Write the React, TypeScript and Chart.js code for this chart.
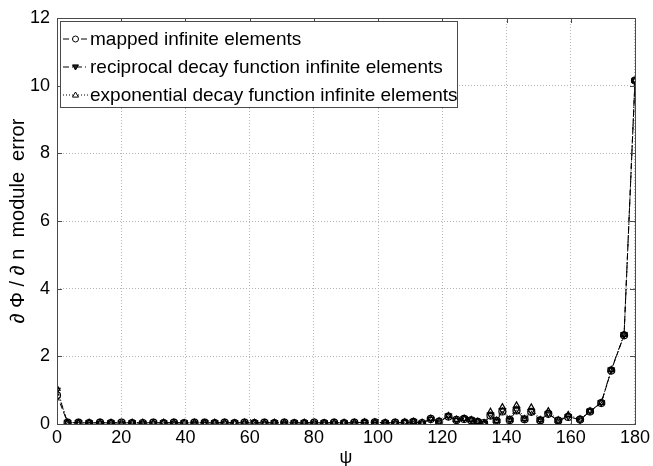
import React, { useEffect, useRef } from "react";
import { Chart, registerables } from "chart.js";

Chart.register(...registerables);

// Angular position of the sample points (degrees)
const psi: number[] = [
  0, 3.3, 6.7, 10.0, 13.4, 16.8, 20.1, 23.4, 26.7, 30.0,
  33.2, 36.4, 39.6, 42.8, 46.0, 49.1, 52.2, 55.3, 58.4, 61.5,
  64.6, 67.7, 70.8, 73.9, 77.0, 80.1, 83.2, 86.3, 89.4, 92.6,
  95.8, 99.0, 102.2, 105.3, 108.3, 111.0, 113.7, 116.4, 119.0, 121.9,
  124.4, 126.8, 129.0, 131.0, 133.0, 135.0, 136.9, 138.7, 141.0, 143.1,
  145.6, 147.7, 150.5, 153.0, 156.1, 159.2, 162.9, 166.0, 169.5, 172.6,
  176.6, 180.0,
];

const mappedError: number[] = [
  0.85, 0.04, 0.04, 0.03, 0.04, 0.03, 0.04, 0.03, 0.03, 0.04,
  0.03, 0.04, 0.03, 0.04, 0.04, 0.03, 0.04, 0.03, 0.04, 0.03,
  0.04, 0.03, 0.04, 0.03, 0.03, 0.04, 0.03, 0.04, 0.03, 0.04,
  0.04, 0.05, 0.03, 0.04, 0.04, 0.06, 0.03, 0.15, 0.07, 0.22,
  0.12, 0.15, 0.11, 0.06, 0.03, 0.25, 0.09, 0.37, 0.12, 0.40,
  0.14, 0.36, 0.11, 0.30, 0.10, 0.21, 0.13, 0.37, 0.62, 1.58,
  2.62, 10.15,
];

const reciprocalError: number[] = [
  1.0, 0.04, 0.04, 0.04, 0.03, 0.04, 0.03, 0.04, 0.03, 0.03,
  0.04, 0.03, 0.04, 0.03, 0.04, 0.04, 0.03, 0.04, 0.03, 0.04,
  0.03, 0.04, 0.03, 0.04, 0.04, 0.03, 0.04, 0.03, 0.04, 0.03,
  0.05, 0.04, 0.04, 0.03, 0.05, 0.07, 0.03, 0.14, 0.06, 0.24,
  0.11, 0.16, 0.12, 0.07, 0.02, 0.27, 0.08, 0.40, 0.11, 0.42,
  0.15, 0.37, 0.12, 0.31, 0.09, 0.22, 0.12, 0.38, 0.63, 1.60,
  2.64, 10.15,
];

const exponentialError: number[] = [
  1.05, 0.04, 0.03, 0.04, 0.04, 0.04, 0.03, 0.04, 0.04, 0.03,
  0.04, 0.04, 0.03, 0.04, 0.03, 0.04, 0.04, 0.03, 0.04, 0.04,
  0.03, 0.04, 0.04, 0.03, 0.04, 0.04, 0.03, 0.04, 0.04, 0.04,
  0.05, 0.05, 0.04, 0.04, 0.05, 0.07, 0.04, 0.16, 0.08, 0.24,
  0.13, 0.16, 0.12, 0.07, 0.03, 0.36, 0.10, 0.50, 0.13, 0.55,
  0.15, 0.49, 0.12, 0.38, 0.11, 0.27, 0.14, 0.38, 0.63, 1.60,
  2.64, 10.15,
];

const seriesLabels: string[] = [
  "mapped infinite elements",
  "reciprocal decay function infinite elements",
  "exponential decay function infinite elements",
];

const xTicks: number[] = [0, 20, 40, 60, 80, 100, 120, 140, 160, 180];
const yTicks: number[] = [0, 2, 4, 6, 8, 10, 12];

const xTitle = "\u03C8";
const yTitle = "\u2202 \u03A6 / \u2202 n  module  error";

const FONT = "'Liberation Sans', Arial, Helvetica, sans-serif";
const FRAME = "#4a4a4a";

const dashes: number[][] = [
  [6, 3],
  [6, 3, 1, 3],
  [1, 2],
];

// Axes box, inward tick marks, titles and the boxed legend in the upper left
const framePlugin = {
  id: "framePlugin",
  afterDraw(chart: any) {
    const { ctx, chartArea: a, scales } = chart;
    const xs = scales.x;
    const ys = scales.y;
    ctx.save();

    ctx.strokeStyle = FRAME;
    ctx.lineWidth = 1;
    ctx.setLineDash([]);
    ctx.strokeRect(Math.round(a.left) + 0.5, Math.round(a.top) + 0.5,
      Math.round(a.right - a.left), Math.round(a.bottom - a.top));

    const tl = 5;
    ctx.beginPath();
    for (const v of xTicks) {
      const px = Math.round(xs.getPixelForValue(v)) + 0.5;
      ctx.moveTo(px, a.bottom);
      ctx.lineTo(px, a.bottom - tl);
      ctx.moveTo(px, a.top);
      ctx.lineTo(px, a.top + tl);
    }
    for (const v of yTicks) {
      const py = Math.round(ys.getPixelForValue(v)) + 0.5;
      ctx.moveTo(a.left, py);
      ctx.lineTo(a.left + tl, py);
      ctx.moveTo(a.right, py);
      ctx.lineTo(a.right - tl, py);
    }
    ctx.stroke();

    // axis titles
    ctx.fillStyle = "#000";
    ctx.font = `18px ${FONT}`;
    ctx.textAlign = "center";
    ctx.textBaseline = "middle";
    ctx.fillText(xTitle, (a.left + a.right) / 2, 458);
    ctx.save();
    ctx.translate(18, (a.top + a.bottom) / 2);
    ctx.rotate(-Math.PI / 2);
    ctx.font = `20px ${FONT}`;
    ctx.fillText(yTitle, 0, 0);
    ctx.restore();

    // legend
    const lx = 60.5, ly = 21.5, lw = 397, lh = 86;
    ctx.fillStyle = "#fff";
    ctx.fillRect(lx, ly, lw, lh);
    ctx.strokeStyle = FRAME;
    ctx.strokeRect(lx, ly, lw, lh);
    const rows = [39, 67, 95];
    chart.data.datasets.forEach((ds: any, i: number) => {
      const y = rows[i];
      ctx.strokeStyle = "#000";
      ctx.lineWidth = 1;
      ctx.setLineDash(dashes[i]);
      ctx.beginPath();
      ctx.moveTo(63, y);
      ctx.lineTo(88, y);
      ctx.stroke();
      ctx.setLineDash([]);
      ctx.beginPath();
      const cx = 75.5;
      const r = 3;
      if (i === 0) {
        ctx.arc(cx, y, r, 0, Math.PI * 2);
      } else if (i === 1) {
        ctx.moveTo(cx - r, y - r * 0.7);
        ctx.lineTo(cx + r, y - r * 0.7);
        ctx.lineTo(cx, y + r);
        ctx.closePath();
      } else {
        ctx.moveTo(cx - r, y + r * 0.7);
        ctx.lineTo(cx + r, y + r * 0.7);
        ctx.lineTo(cx, y - r);
        ctx.closePath();
      }
      ctx.fillStyle = i === 1 ? "#222" : "#fff";
      ctx.fill();
      ctx.stroke();
      ctx.fillStyle = "#000";
      ctx.font = `19px ${FONT}`;
      ctx.textAlign = "left";
      ctx.textBaseline = "middle";
      ctx.fillText(ds.label, 90, y + 1);
    });

    ctx.restore();
  },
};

const whiteBackground = {
  id: "whiteBackground",
  beforeDraw(chart: any) {
    const { ctx, width, height } = chart;
    ctx.save();
    ctx.fillStyle = "#fff";
    ctx.fillRect(0, 0, width, height);
    ctx.restore();
  },
};

export default function App() {
  const canvasRef = useRef<HTMLCanvasElement | null>(null);

  useEffect(() => {
    document.body.style.margin = "0";
    const canvas = canvasRef.current;
    if (!canvas) return;

    const makeSet = (label: string, values: number[], i: number) => ({
      label,
      data: psi.map((p, k) => ({ x: p, y: values[k] })),
      borderColor: "#000",
      borderWidth: 1,
      borderDash: dashes[i],
      pointStyle: i === 0 ? "circle" : "triangle",
      pointRotation: i === 1 ? 180 : 0,
      pointRadius: 3.5,
      pointBorderWidth: 1.2,
      pointBorderColor: "#000",
      pointBackgroundColor: "rgba(255,255,255,0)",
      fill: false,
      tension: 0,
    });

    const chart = new Chart(canvas, {
      type: "line",
      data: {
        datasets: [
          makeSet(seriesLabels[0], mappedError, 0),
          makeSet(seriesLabels[1], reciprocalError, 1),
          makeSet(seriesLabels[2], exponentialError, 2),
        ],
      },
      options: {
        animation: false,
        responsive: false,
        devicePixelRatio: 1,
        layout: { padding: { top: 18, right: 16, left: 0, bottom: 0 } },
        plugins: {
          legend: { display: false },
          tooltip: { enabled: false },
        },
        scales: {
          x: {
            type: "linear",
            min: 0,
            max: 180,
            afterBuildTicks: (axis: any) => {
              axis.ticks = xTicks.map((v) => ({ value: v }));
            },
            afterFit: (axis: any) => {
              axis.height = 42;
            },
            ticks: {
              color: "#000",
              font: { family: FONT, size: 18 },
              padding: 3,
              maxRotation: 0,
              autoSkip: false,
            },
            grid: {
              color: "#b5b5b5",
              drawTicks: false,
            },
            border: { display: false, dash: [1, 2] },
          },
          y: {
            type: "linear",
            min: 0,
            max: 12,
            afterBuildTicks: (axis: any) => {
              axis.ticks = yTicks.map((v) => ({ value: v }));
            },
            afterFit: (axis: any) => {
              axis.width = 57;
            },
            ticks: {
              color: "#000",
              font: { family: FONT, size: 18 },
              padding: 7,
              autoSkip: false,
            },
            grid: {
              color: "#b5b5b5",
              drawTicks: false,
            },
            border: { display: false, dash: [1, 2] },
          },
        },
      },
      plugins: [whiteBackground, framePlugin],
    });

    return () => chart.destroy();
  }, []);

  return (
    <div style={{ width: 653, height: 466 }}>
      <canvas ref={canvasRef} width={653} height={466} style={{ display: "block" }} />
    </div>
  );
}
